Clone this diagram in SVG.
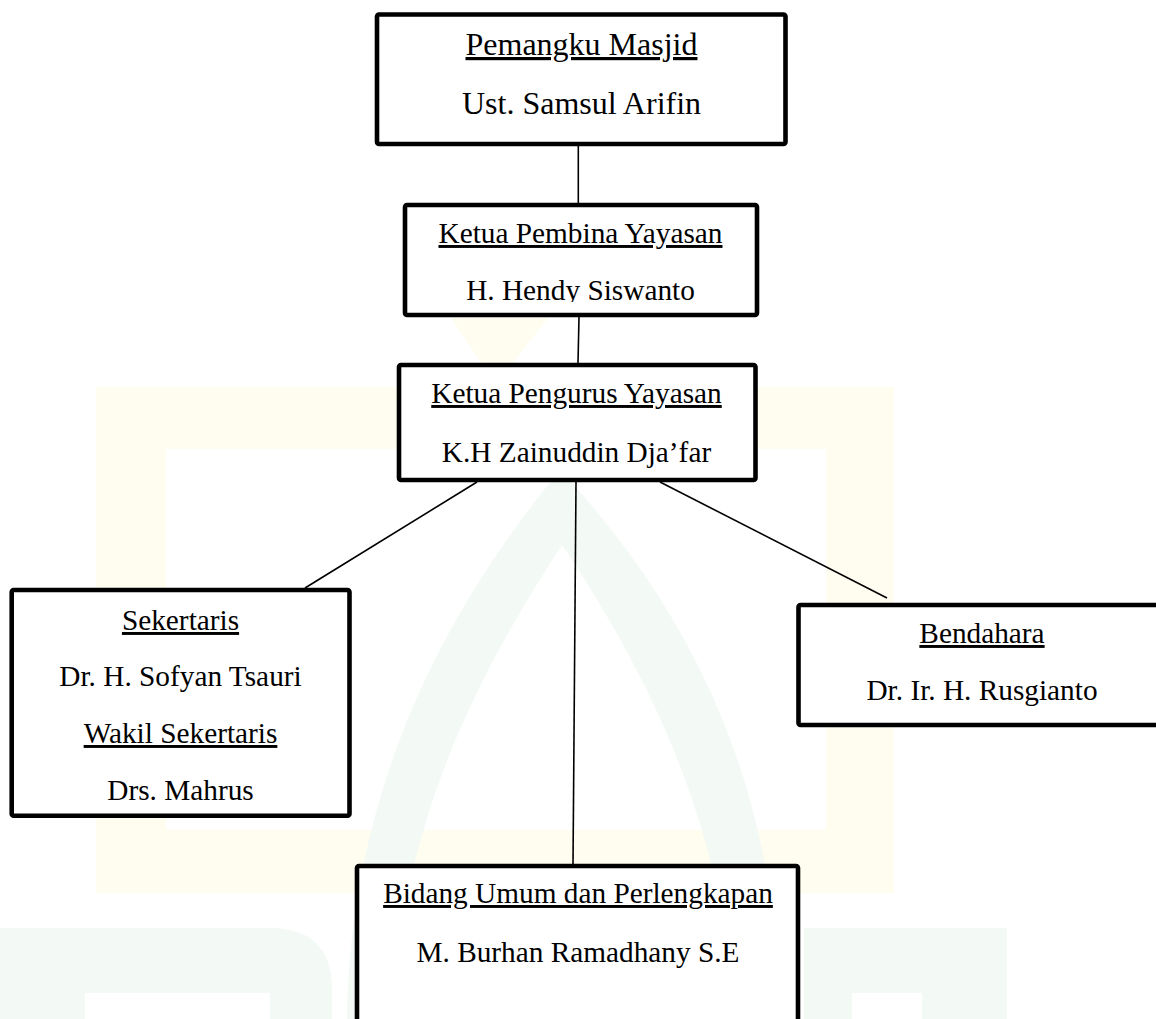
<svg xmlns="http://www.w3.org/2000/svg" width="1156" height="1019" viewBox="0 0 1156 1019">
  <style>
    .box { fill: #ffffff; stroke: #000000; stroke-width: 4.6; }
    .t { font-family: "Liberation Serif", "Times New Roman", serif; font-size: 29.3px; fill: #000000; text-anchor: middle; }
    .big { font-size: 32px; }
    .u { text-decoration: underline; }
    .conn { stroke: #000000; stroke-width: 1.6; fill: none; }
    .wy { fill: #fffdef; }
    .wg { fill: #f3f9f4; }
  </style>
  <defs>
    <clipPath id="clipHendy">
      <rect x="405" y="205" width="352" height="97"/>
    </clipPath>
  </defs>
  <rect x="0" y="0" width="1156" height="1019" fill="#ffffff"/>

  <g id="watermark">
    <path class="wy" fill-rule="evenodd" d="M96 387 H894 V893 H96 Z M166 449 V830 H826 V449 Z"/>
    <polygon class="wy" points="451,318 548,318 512,364 482,364"/>
    <path class="wg" fill-rule="evenodd" d="M347 1019 C 350 820, 420 640, 560 470 C 700 620, 780 800, 778 1019 Z M 395 1019 C 397 850, 460 700, 562 545 C 660 690, 730 850, 730 1019 Z"/>
    <path class="wg" fill-rule="evenodd" d="M0 928 H270 Q332 928 332 990 V1019 H0 Z M85 993 H270 V1019 H85 Z"/>
    <path class="wg" fill-rule="evenodd" d="M804 928 H1007 V1019 H804 Z M852 993 H922 V1019 H852 Z"/>
  </g>

  <g id="connectors">
    <line class="conn" x1="578.3" y1="146" x2="578.3" y2="203"/>
    <line class="conn" x1="579" y1="317" x2="578" y2="363"/>
    <line class="conn" x1="477" y1="482" x2="305" y2="588"/>
    <line class="conn" x1="576" y1="482" x2="573" y2="865"/>
    <line class="conn" x1="660" y1="482" x2="887" y2="598"/>
  </g>

  <g id="pemangku">
    <rect class="box" x="377" y="14.5" width="408.5" height="129.5" rx="2"/>
    <text class="t big u" x="581.5" y="55">Pemangku Masjid</text>
    <text class="t big" x="581.5" y="114">Ust. Samsul Arifin</text>
  </g>

  <g id="pembina">
    <rect class="box" x="405" y="205" width="352" height="110" rx="2"/>
    <text class="t u" x="580.5" y="243">Ketua Pembina Yayasan</text>
    <text class="t" x="580.5" y="300" clip-path="url(#clipHendy)">H. Hendy Siswanto</text>
  </g>

  <g id="pengurus">
    <rect class="box" x="399" y="365" width="356.5" height="115" rx="2"/>
    <text class="t u" x="576.5" y="403">Ketua Pengurus Yayasan</text>
    <text class="t" x="576.5" y="462">K.H Zainuddin Dja’far</text>
  </g>

  <g id="sekertaris">
    <rect class="box" x="11.7" y="590" width="337.8" height="225.8" rx="2"/>
    <text class="t u" x="180.5" y="630">Sekertaris</text>
    <text class="t" x="180.5" y="686">Dr. H. Sofyan Tsauri</text>
    <text class="t u" x="180.5" y="743">Wakil Sekertaris</text>
    <text class="t" x="180.5" y="800">Drs. Mahrus</text>
  </g>

  <g id="bendahara">
    <rect class="box" x="798.5" y="605" width="368" height="120" rx="2"/>
    <text class="t u" x="982" y="643">Bendahara</text>
    <text class="t" x="982" y="700">Dr. Ir. H. Rusgianto</text>
  </g>

  <g id="bidang">
    <rect class="box" x="357" y="866" width="441" height="200" rx="2"/>
    <text class="t u" x="578" y="903">Bidang Umum dan Perlengkapan</text>
    <text class="t" x="578" y="962">M. Burhan Ramadhany S.E</text>
  </g>
</svg>
